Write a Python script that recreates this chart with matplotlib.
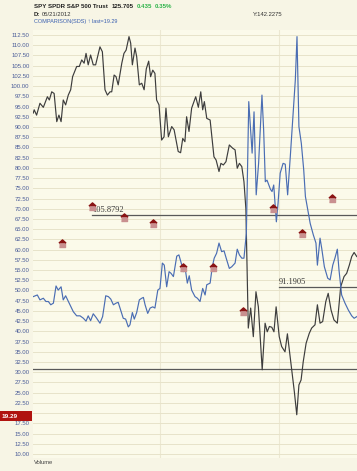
import matplotlib
matplotlib.use("Agg")
import matplotlib.pyplot as plt
from matplotlib.patches import Rectangle

plt.rcParams['font.family'] = ['Liberation Sans', 'DejaVu Sans']

# SPY (trading day, close)
spy_day = [0.1, 0.5, 1.5, 2.9, 4.3, 6.0, 6.8, 7.8, 8.8, 9.9, 10.8, 11.7, 12.6, 13.6, 14.7, 15.7, 16.5, 18.2,
           19.3, 20.3, 21.3, 22.1, 23.0, 24.0, 25.1, 26.1, 27.9, 28.9, 30.0, 31.0, 32.1, 32.8, 33.8, 34.6, 35.5,
           37.0, 37.9, 38.8, 40.0, 40.7, 41.4, 42.5, 43.2, 44.3, 45.3, 46.3, 47.2, 48.2, 49.0, 49.9, 50.8, 51.5,
           52.5, 53.6, 54.6, 55.4, 56.4, 57.8, 58.8, 60.5, 61.5, 62.4, 63.3, 64.0, 65.0, 66.1, 67.8, 68.9, 69.9,
           70.7, 71.4, 72.4, 73.8, 75.4, 76.3, 77.5, 78.3, 79.3, 80.4, 81.8, 83.2, 84.2, 85.1, 86.0, 87.0, 87.9,
           88.7, 89.7, 90.7, 91.8, 92.9, 93.9, 95.5, 96.7, 97.6, 98.5, 99.5, 100.4, 101.3, 102.6, 103.6, 105.0,
           106.0, 106.8, 107.8, 108.9, 109.9, 110.8, 111.7, 112.6, 113.8, 115.1, 116.1, 117.5, 118.5, 119.6,
           120.7, 122.0, 123.0, 124.2, 125.4, 126.8, 128.2, 129.6, 130.7, 131.8, 132.8, 133.8, 134.9]
spy_close = [93.4, 94.2, 92.9, 95.8, 94.8, 97.4, 96.6, 98.6, 98.2, 91.3, 92.9, 91.3, 96.6, 95.4, 97.8, 99.1, 102.3, 104.8,
             104.8, 106.4, 105.6, 108.0, 105.2, 107.6, 105.2, 105.2, 109.6, 108.4, 99.1, 97.8, 98.6, 98.6, 102.7, 102.3, 100.3,
             105.6, 108.0, 108.8, 112.1, 110.5, 105.2, 109.3, 107.2, 100.3, 100.7, 99.1, 104.2, 106.1, 102.3, 103.9, 103.1, 96.6,
             95.4, 86.8, 87.6, 94.6, 87.6, 90.1, 89.3, 84.0, 83.7, 87.2, 86.4, 92.5, 88.9, 94.6, 97.4, 94.8, 98.6,
             94.2, 96.2, 92.1, 91.7, 82.7, 81.9, 79.1, 81.1, 80.7, 81.5, 85.6, 84.8, 84.4, 79.9, 81.1, 80.3, 76.6,
             70.0, 40.8, 45.7, 38.7, 49.7, 46.0, 30.6, 42.0, 39.9, 41.2, 41.0, 39.9, 46.0, 38.7, 36.3, 35.0,
             39.4, 35.5, 30.6, 25.2, 19.6, 26.9, 28.1, 32.6, 37.1, 39.5, 40.8, 41.6, 46.5, 42.0,
             42.4, 47.3, 49.3, 45.2, 42.8, 42.0, 50.9, 53.4, 54.2, 56.2, 58.3, 59.3, 58.3]

# COMPARISON(SDS)
sds_day = [0.1, 1.8, 2.9, 4.3, 5.4, 6.4, 7.4, 8.5, 9.6, 10.5, 11.7, 12.6, 13.6, 15.1, 16.8, 18.2, 19.6, 21.0,
           22.1, 23.0, 24.0, 25.1, 26.3, 27.9, 29.0, 30.3, 31.4, 32.4, 33.5, 34.6, 35.5, 36.5, 37.6, 38.6, 39.7,
           40.4, 41.4, 42.2, 43.2, 44.3, 45.3, 46.0, 46.7, 47.8, 48.8, 49.9, 50.8, 52.0, 52.9, 53.9, 54.7, 55.7,
           56.7, 57.5, 58.5, 59.9, 60.8, 62.0, 62.6, 63.3, 64.3, 65.1, 66.1, 67.5, 68.5, 69.6, 70.7, 71.7, 72.4,
           73.8, 74.7, 75.5, 76.5, 77.5, 78.6, 79.6, 80.7, 81.8, 82.8, 84.2, 85.1, 86.0, 87.0, 87.9, 88.9, 89.9,
           91.3, 92.1, 93.0, 94.0, 95.4, 96.1, 96.8, 97.5, 98.9, 99.6, 100.3, 101.4, 102.1, 103.0, 104.2, 105.1,
           106.1, 107.2, 108.3, 109.3, 110.0, 110.8, 111.8, 112.8, 113.5, 114.5, 115.5, 116.8, 117.9, 118.5,
           119.6, 120.3, 121.4, 122.8, 123.8, 124.9, 125.8, 126.8, 127.5, 128.6, 130.0, 131.4, 132.8, 133.8, 134.9]
sds_close = [48.5, 48.9, 47.7, 48.1, 47.3, 47.3, 46.5, 46.9, 51.1, 50.1, 50.9, 47.7, 48.7, 46.9, 44.8, 43.8, 43.8, 43.2,
             42.5, 43.8, 42.6, 44.3, 43.4, 42.0, 43.6, 48.7, 48.5, 47.9, 46.5, 46.9, 47.1, 45.2, 43.2, 43.0, 41.1,
             41.6, 44.6, 43.0, 44.6, 47.7, 48.1, 48.3, 46.5, 44.4, 45.7, 46.0, 45.7, 50.1, 50.5, 56.7, 56.2, 50.9,
             54.6, 54.2, 53.4, 58.4, 58.7, 56.2, 54.6, 55.8, 51.8, 53.6, 50.1, 48.5, 48.1, 47.3, 50.5, 48.9, 51.4,
             51.8, 55.8, 57.9, 59.1, 61.6, 59.5, 59.7, 57.5, 55.4, 55.8, 56.7, 60.1, 58.7, 57.9, 57.9, 64.0, 96.2,
             83.6, 93.7, 73.4, 81.1, 97.8, 89.3, 76.6, 77.0, 74.8, 74.2, 75.8, 66.8, 71.3, 78.7, 81.1, 80.9,
             73.4, 82.7, 92.5, 101.5, 112.1, 90.1, 86.0, 79.5, 73.0, 69.7, 66.4, 63.6, 61.6, 56.2,
             62.8, 60.3, 55.8, 53.0, 52.6, 56.2, 57.9, 60.1, 55.0, 48.9, 46.9, 45.2, 43.8, 43.2, 43.6]

# signal markers
sig_day = [12.1, 24.6, 37.9, 50.0, 62.5, 75.0, 87.5, 100.0, 112.1, 124.6]
sig_val = [61.6, 70.7, 68.0, 66.5, 55.8, 55.8, 45.0, 70.2, 64.1, 72.6]

# horizontal levels (value, start day, label)
level_val = [68.35, 50.73, 30.72]
level_start = [24.6, 102.5, 0.0]
level_label = ['105.8792', '91.1905', '']

y_ticks = [10.0 + 2.5 * i for i in range(42)]
month_lines = [52.9, 102.5]
last_value = 19.29

W, H = 357, 471
fig = plt.figure(figsize=(W / 100, H / 100), dpi=100, facecolor='#f7f5e5')


def px(x, y):
    return x / W, 1 - y / H


ax = fig.add_axes([33 / W, 13 / H, 324 / W, 428 / H])
ax.set_facecolor('#fbfaea')
ax.set_xlim(0, 135)
ax.set_ylim(9.02, 113.72)
for s in ax.spines.values():
    s.set_visible(False)

ax.set_xticks([])
ax.set_yticks(y_ticks)
# the last-value flag hides the label under it
ax.set_yticklabels(['' if abs(t - last_value) < 1.5 else '%.2f' % t for t in y_ticks])
ax.tick_params(axis='y', length=0, pad=2.5, labelsize=4.3, labelcolor='#4a5c98')
ax.grid(axis='y', color='#e7e3c9', linewidth=0.7)
for d in month_lines:
    ax.axvline(d, color='#ece8d2', linewidth=0.8, zorder=0.5)

ax.plot(spy_day, spy_close, color='#3d3d3d', linewidth=0.85, zorder=3)
ax.plot(sds_day, sds_close, color='#4a6db3', linewidth=0.85, zorder=3)

for v, d, lab in zip(level_val, level_start, level_label):
    ax.plot([d, 135], [v, v], color='#595959', linewidth=0.9, zorder=2)
    if lab:
        ax.text(d, v + 0.3, lab, fontsize=6, family='Liberation Serif', color='#3a3a3a',
                ha='left', va='bottom', zorder=4)

roof = [(-1, 0.1), (0, 1), (1, 0.1)]
body = [(-0.7, -1), (0.7, -1), (0.7, 0.1), (-0.7, 0.1)]
ax.plot(sig_day, sig_val, linestyle='none', marker=body, markersize=5.2, color='#c99090', zorder=5)
ax.plot(sig_day, sig_val, linestyle='none', marker=roof, markersize=5.2, color='#8a1414', zorder=6)

# header
fig.text(*px(34, 6), 'SPY SPDR S&P 500 Trust', fontsize=4.4, weight='bold', color='#222222', va='center')
fig.text(*px(112, 6), '125.705', fontsize=4.4, weight='bold', color='#222222', va='center')
fig.text(*px(137, 6), '0.435', fontsize=4.4, weight='bold', color='#2db34a', va='center')
fig.text(*px(155, 6), '0.35%', fontsize=4.4, weight='bold', color='#2db34a', va='center')
fig.text(*px(34, 15), 'D:', fontsize=4.2, weight='bold', color='#222222', va='center')
fig.text(*px(42, 15), '05/21/2012', fontsize=4.2, color='#333333', va='center')
fig.text(*px(253, 15), 'Y:142.2275', fontsize=4.2, color='#333333', va='center')
fig.text(*px(34, 21.5), 'COMPARISON(SDS) \u2191 last=19.29', fontsize=4.0, color='#3a5fb0', va='center')
fig.text(*px(34, 463), 'Volume', fontsize=4.2, color='#444444', va='center')

# last value flag
fig.patches.append(Rectangle(px(0, 421), 32 / W, 10 / H, transform=fig.transFigure,
                             facecolor='#b0130f', edgecolor='none', zorder=5))
fig.text(*px(2, 416), '%.2f' % last_value, fontsize=4.6, weight='bold', color='white', va='center', zorder=6)

plt.savefig('out.png', dpi=100, facecolor=fig.get_facecolor())
